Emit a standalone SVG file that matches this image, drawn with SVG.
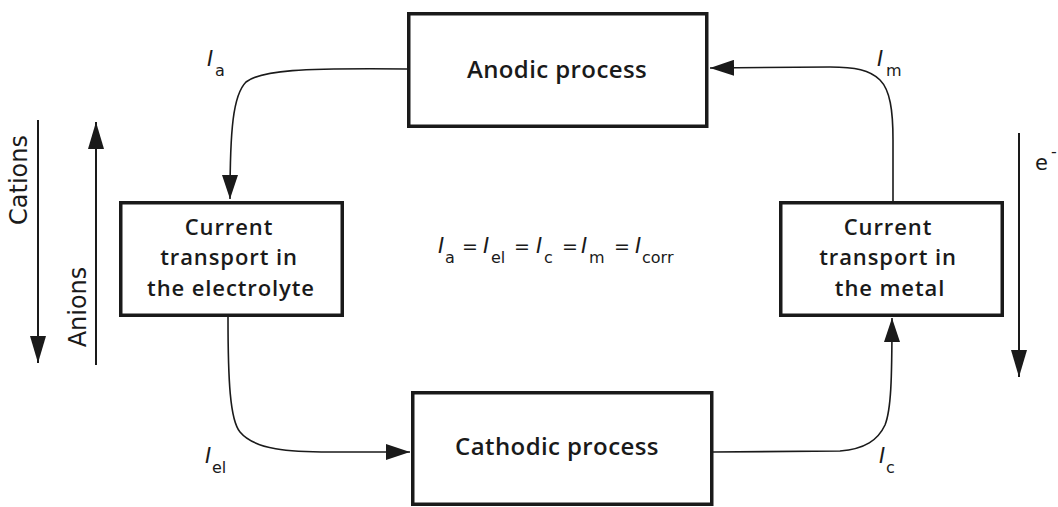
<svg xmlns="http://www.w3.org/2000/svg" width="1058" height="507" viewBox="0 0 1058 507">
<style>
.box{fill:#fff;stroke:#1a1a1a;stroke-width:3.5}
.bt{font-family:"Open Sans","DejaVu Sans",sans-serif;font-weight:600;font-size:24px;letter-spacing:0.4px;fill:#1a1a1a;text-anchor:middle}
.ml{font-size:22px;letter-spacing:0.9px}
.lb{font-family:"DejaVu Sans","Open Sans",sans-serif;font-size:21px;fill:#1a1a1a}
.sub{font-size:16px}
.it{font-style:italic}
.eq{font-size:19px}
.con{fill:none;stroke:#1a1a1a;stroke-width:1.6}
.flow{fill:none;stroke:#1a1a1a;stroke-width:2}
</style>
<defs>
<marker id="ah" viewBox="0 0 24 16" refX="24" refY="8" markerWidth="24" markerHeight="16" markerUnits="userSpaceOnUse" orient="auto"><path d="M0,0 L24,8 L0,16 z" fill="#1a1a1a"/></marker>
<marker id="ah2" viewBox="0 0 27 16" refX="27" refY="8" markerWidth="27" markerHeight="16" markerUnits="userSpaceOnUse" orient="auto"><path d="M0,0 L27,8 L0,16 z" fill="#1a1a1a"/></marker>
</defs>

<g id="connectors">
<path class="con" d="M407,69 C300,68 262,70 246,82 C233,95 230,130 230,199" marker-end="url(#ah)"/>
<path class="con" d="M228,317 C228,380 230,420 240,432 C255,450 290,452 330,452 L410,452" marker-end="url(#ah)"/>
<path class="con" d="M713,452 L840,451 C865,449 878,440 885,425 C891,410 892,380 892,318" marker-end="url(#ah)"/>
<path class="con" d="M893,201 L893,140 C893,110 890,90 880,80 C870,70 855,67 830,67 L710,68" marker-end="url(#ah)"/>
</g>

<g id="flows">
<line class="flow" x1="38" y1="120" x2="38" y2="363" marker-end="url(#ah2)"/>
<line class="flow" x1="96" y1="365" x2="96" y2="122" marker-end="url(#ah2)"/>
<line class="flow" x1="1019" y1="133" x2="1019" y2="377" marker-end="url(#ah2)"/>
<text class="lb" x="27" y="180" text-anchor="middle" transform="rotate(-90 27 180)" style="font-size:24px">Cations</text>
<text class="lb" x="86" y="307" text-anchor="middle" transform="rotate(-90 86 307)" style="font-size:24px">Anions</text>
<text class="lb" x="1035" y="170">e<tspan class="sub" x="1051" y="157">-</tspan></text>
</g>

<g id="anodic">
<rect class="box" x="408.75" y="13.75" width="298" height="112.5"/>
<text class="bt" x="557" y="78">Anodic process</text>
</g>

<g id="electrolyte">
<rect class="box" x="120.75" y="202.75" width="221.5" height="112.5"/>
<text class="bt ml"><tspan x="229" y="234.5">Current</tspan><tspan x="229" y="265">transport in</tspan><tspan x="231" y="295.5">the electrolyte</tspan></text>
</g>

<g id="metal">
<rect class="box" x="780.75" y="202.75" width="221.5" height="112.5"/>
<text class="bt ml"><tspan x="888" y="234.5">Current</tspan><tspan x="888" y="265">transport in</tspan><tspan x="890" y="295.5">the metal</tspan></text>
</g>

<g id="cathodic">
<rect class="box" x="412.75" y="392.75" width="299" height="111.5"/>
<text class="bt" x="557" y="455">Cathodic process</text>
</g>

<g id="labels">
<text class="lb"><tspan class="it" x="207" y="66">I</tspan><tspan class="sub" x="215" y="76">a</tspan></text>
<text class="lb"><tspan class="it" x="877" y="66">I</tspan><tspan class="sub" x="886" y="76">m</tspan></text>
<text class="lb"><tspan class="it" x="205" y="463">I</tspan><tspan class="sub" x="212" y="473">el</tspan></text>
<text class="lb"><tspan class="it" x="879" y="463">I</tspan><tspan class="sub" x="886" y="473">c</tspan></text>
<text class="lb"><tspan class="it" x="438" y="253">I</tspan><tspan class="sub" x="445" y="263">a</tspan><tspan class="eq" x="462" y="253">=</tspan><tspan class="it" x="483" y="253">I</tspan><tspan class="sub" x="491" y="263">el</tspan><tspan class="eq" x="514" y="253">=</tspan><tspan class="it" x="536" y="253">I</tspan><tspan class="sub" x="544" y="263">c</tspan><tspan class="eq" x="562" y="253">=</tspan><tspan class="it" x="581" y="253">I</tspan><tspan class="sub" x="589" y="263">m</tspan><tspan class="eq" x="614" y="253">=</tspan><tspan class="it" x="635" y="253">I</tspan><tspan class="sub" x="642" y="263">corr</tspan></text>
</g>
</svg>
